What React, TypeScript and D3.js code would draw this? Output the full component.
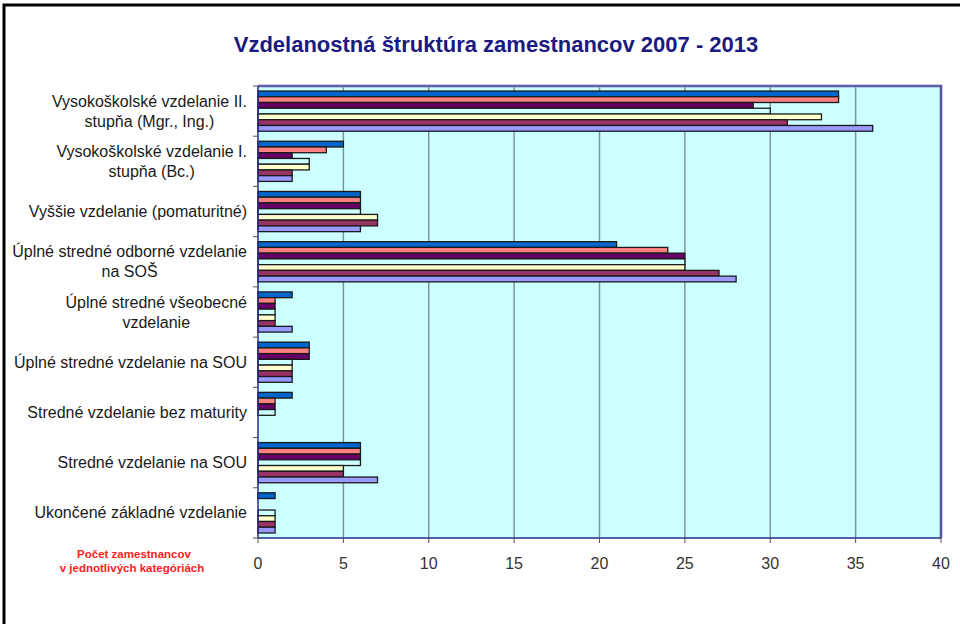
import { useRef, useLayoutEffect } from 'react';
import * as d3 from 'd3';

const categories = [
  ['Vysokoškolské vzdelanie II.', 'stupňa (Mgr., Ing.)'],
  ['Vysokoškolské vzdelanie I.', 'stupňa (Bc.)'],
  ['Vyššie vzdelanie (pomaturitné)'],
  ['Úplné stredné odborné vzdelanie', 'na SOŠ'],
  ['Úplné stredné všeobecné', 'vzdelanie'],
  ['Úplné stredné vzdelanie na SOU'],
  ['Stredné vzdelanie bez maturity'],
  ['Stredné vzdelanie na SOU'],
  ['Ukončené základné vzdelanie'],
];

const years = ['2007', '2008', '2009', '2010', '2011', '2012', '2013'];
const colors = ['#0066CC', '#FF8080', '#660066', '#CCFFFF', '#FFFFCC', '#993366', '#9999FF'];

// one row per category, one value per year
const values = [
  [34, 34, 29, 30, 33, 31, 36],
  [5, 4, 2, 3, 3, 2, 2],
  [6, 6, 6, 6, 7, 7, 6],
  [21, 24, 25, 25, 25, 27, 28],
  [2, 1, 1, 1, 1, 1, 2],
  [3, 3, 3, 2, 2, 2, 2],
  [2, 1, 1, 1, 0, 0, 0],
  [6, 6, 6, 6, 5, 5, 7],
  [1, 0, 0, 1, 1, 1, 1],
];

const xTicks = [0, 5, 10, 15, 20, 25, 30, 35, 40];

const W = 960;
const H = 624;
const plot = { left: 258, right: 941, top: 86, bottom: 538 };

const Chart = () => {
  const ref = useRef<SVGGElement>(null);

  useLayoutEffect(() => {
    const g = d3.select(ref.current);
    g.selectAll('*').remove();

    const x = d3.scaleLinear().domain([0, 40]).range([plot.left, plot.right]);
    const y = d3
      .scaleBand<number>()
      .domain(d3.range(categories.length))
      .range([plot.top, plot.bottom])
      .paddingInner(0.2)
      .paddingOuter(0.1);
    const inner = d3.scaleBand<number>().domain(d3.range(years.length)).range([0, y.bandwidth()]);
    const step = y.step();

    // frame round the picture
    g.append('path')
      .attr('d', `M4,${H} L4,5 L${W},5`)
      .attr('fill', 'none')
      .attr('stroke', '#000')
      .attr('stroke-width', 3);

    g.append('text')
      .attr('x', 496)
      .attr('y', 52)
      .attr('text-anchor', 'middle')
      .attr('font-family', 'Liberation Sans, Arial, sans-serif')
      .attr('font-weight', 'bold')
      .attr('font-size', 22)
      .attr('fill', '#1a1a80')
      .text('Vzdelanostná štruktúra zamestnancov 2007 - 2013');

    // plot background
    g.append('rect')
      .attr('x', plot.left)
      .attr('y', plot.top)
      .attr('width', plot.right - plot.left)
      .attr('height', plot.bottom - plot.top)
      .attr('fill', '#CCFFFF');

    // gridlines
    g.append('g')
      .selectAll('line')
      .data(xTicks.slice(1, -1))
      .join('line')
      .attr('x1', (d) => x(d))
      .attr('x2', (d) => x(d))
      .attr('y1', plot.top)
      .attr('y2', plot.bottom)
      .attr('stroke', '#7f9595')
      .attr('stroke-width', 1.5);

    // bars
    const rows = g
      .append('g')
      .selectAll('g')
      .data(values)
      .join('g')
      .attr('transform', (_, i) => `translate(0,${y(i)})`);

    rows
      .selectAll('rect')
      .data((d) => d.map((v, j) => ({ v, j })).filter((e) => e.v > 0))
      .join('rect')
      .attr('x', x(0))
      .attr('y', (d) => inner(d.j)!)
      .attr('width', (d) => x(d.v) - x(0))
      .attr('height', inner.bandwidth())
      .attr('fill', (d) => colors[d.j])
      .attr('stroke', '#1a1a1a')
      .attr('stroke-width', 1.3);

    // plot border (top, right)
    g.append('path')
      .attr('d', `M${plot.left},${plot.top} L${plot.right},${plot.top} L${plot.right},${plot.bottom}`)
      .attr('fill', 'none')
      .attr('stroke', '#9999cc')
      .attr('stroke-width', 3);
    g.append('path')
      .attr('d', `M${plot.left},${plot.top} L${plot.right},${plot.top} L${plot.right},${plot.bottom}`)
      .attr('fill', 'none')
      .attr('stroke', '#2a2a8a')
      .attr('stroke-width', 1.2);

    // axes
    g.append('line')
      .attr('x1', plot.left)
      .attr('x2', plot.right)
      .attr('y1', plot.bottom)
      .attr('y2', plot.bottom)
      .attr('stroke', '#2a2a8a')
      .attr('stroke-width', 1.5);
    g.append('line')
      .attr('x1', plot.left)
      .attr('x2', plot.left)
      .attr('y1', plot.top)
      .attr('y2', plot.bottom)
      .attr('stroke', '#2a2a8a')
      .attr('stroke-width', 1.5);

    // category ticks
    g.append('g')
      .selectAll('line')
      .data(d3.range(categories.length + 1))
      .join('line')
      .attr('x1', plot.left - 5)
      .attr('x2', plot.left)
      .attr('y1', (i) => plot.top + i * step)
      .attr('y2', (i) => plot.top + i * step)
      .attr('stroke', '#555')
      .attr('stroke-width', 1);

    // value ticks and labels
    g.append('g')
      .selectAll('line')
      .data(xTicks)
      .join('line')
      .attr('x1', (d) => x(d))
      .attr('x2', (d) => x(d))
      .attr('y1', plot.bottom)
      .attr('y2', plot.bottom + 5)
      .attr('stroke', '#555')
      .attr('stroke-width', 1);

    g.append('g')
      .selectAll('text')
      .data(xTicks)
      .join('text')
      .attr('x', (d) => x(d))
      .attr('y', 569)
      .attr('text-anchor', 'middle')
      .attr('font-family', 'Liberation Sans, Arial, sans-serif')
      .attr('font-size', 16)
      .attr('fill', '#333')
      .text((d) => d);

    // category labels, centred block ending near the axis
    const fs = 16;
    const canvas = document.createElement('canvas').getContext('2d')!;
    canvas.font = `${fs}px "Liberation Sans", Arial, sans-serif`;

    categories.forEach((lines, i) => {
      const widths = lines.map((l) => canvas.measureText(l).width);
      const maxW = Math.max(...widths);
      const cx = 247 - maxW / 2;
      const mid = plot.top + (i + 0.5) * step;
      const lh = 20;
      const y0 = mid - ((lines.length - 1) * lh) / 2 + 5.5;
      const t = g
        .append('text')
        .attr('text-anchor', 'middle')
        .attr('font-family', 'Liberation Sans, Arial, sans-serif')
        .attr('font-size', fs)
        .attr('fill', '#1a1a1a');
      lines.forEach((l, k) => {
        t.append('tspan').attr('x', cx).attr('y', y0 + k * lh).text(l);
      });
    });

    // note under the labels
    const note = g
      .append('text')
      .attr('text-anchor', 'middle')
      .attr('font-family', 'Liberation Sans, Arial, sans-serif')
      .attr('font-weight', 'bold')
      .attr('font-size', 11.5)
      .attr('fill', '#ff2020');
    note.append('tspan').attr('x', 134).attr('y', 558).text('Počet zamestnancov');
    note.append('tspan').attr('x', 132).attr('y', 572).text('v jednotlivých  kategóriách');
  }, []);

  return (
    <svg
      width={W}
      height={H}
      viewBox={`0 0 ${W} ${H}`}
      style={{ position: 'absolute', left: 0, top: 0, background: '#fff' }}
    >
      <g ref={ref}></g>
    </svg>
  );
};

export default function App() {
  return <Chart />;
}
